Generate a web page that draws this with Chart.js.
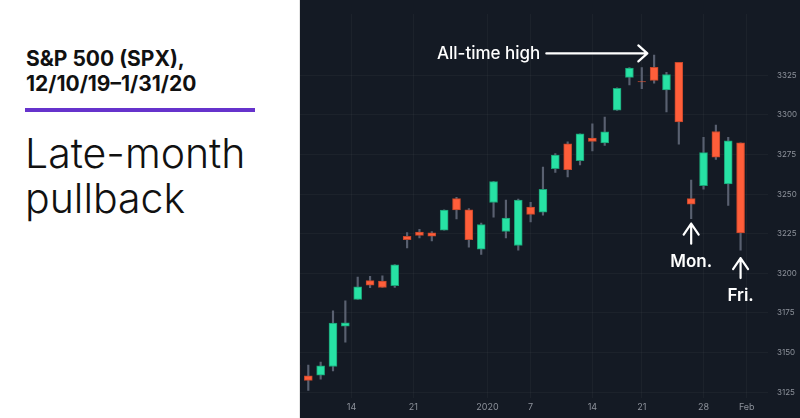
<!DOCTYPE html>
<html>
<head>
<meta charset="utf-8">
<script src="https://cdn.jsdelivr.net/npm/chart.js@4.4.1/dist/chart.umd.min.js"></script>
<style>
  html, body { margin: 0; padding: 0; background: #fff; }
  body { width: 800px; height: 418px; position: relative; overflow: hidden; font-family: Inter, "Noto Sans", sans-serif; }
  .side { position: absolute; left: 0; top: 0; width: 299px; height: 418px; border-right: 1px solid #e4e4e4; }
  .title { position: absolute; left: 26px; top: 46px; font-size: 21px; line-height: 25px; font-weight: 700; color: #111; }
  .rule { position: absolute; left: 25px; top: 108px; width: 230px; height: 4px; background: #6633cc; }
  .sub { position: absolute; left: 25px; top: 131px; font-size: 41px; line-height: 45px; font-weight: 300; color: #111; }
  .plot { position: absolute; left: 300px; top: 0; width: 500px; height: 418px; background: #141a24; }
</style>
</head>
<body>
<div class="side">
  <div class="title">S&amp;P 500 (SPX),<br>12/10/19–1/31/20</div>
  <div class="rule"></div>
  <div class="sub">Late-month<br>pullback</div>
</div>
<div class="plot"><canvas id="spx"></canvas></div>
<script>
// daily candles, Dec 9 2019 (cut off at the edge) to Jan 31 2020
const dates = ['12/9', '12/10', '12/11', '12/12', '12/13', '12/16', '12/17', '12/18', '12/19', '12/20',
  '12/23', '12/24', '12/26', '12/27', '12/30', '12/31', '1/2', '1/3', '1/6', '1/7', '1/8', '1/9', '1/10',
  '1/13', '1/14', '1/15', '1/16', '1/17', '1/21', '1/22', '1/23', '1/24', '1/27', '1/28', '1/29', '1/30', '1/31'];
const open = [3141.9, 3135.4, 3135.8, 3141.2, 3166.7, 3183.6, 3195.4, 3195.2, 3192.3, 3223.3,
  3226.1, 3225.5, 3227.2, 3247.2, 3240.1, 3215.2, 3244.7, 3226.4, 3217.6, 3241.9, 3238.6, 3266.0, 3281.8,
  3271.1, 3285.4, 3282.3, 3303.0, 3323.7, 3321.0, 3330.0, 3315.8, 3333.1, 3247.2, 3255.4, 3289.5, 3256.5, 3282.3];
const high = [3148.9, 3142.1, 3144.0, 3176.3, 3182.7, 3197.7, 3198.2, 3198.5, 3205.5, 3225.7,
  3227.8, 3226.4, 3240.1, 3247.9, 3240.9, 3231.7, 3258.1, 3246.2, 3246.8, 3244.9, 3267.1, 3275.6, 3283.0,
  3288.1, 3294.3, 3298.7, 3317.1, 3329.9, 3329.8, 3337.8, 3326.9, 3333.2, 3258.9, 3285.8, 3293.5, 3285.9, 3282.3];
const low = [3135.5, 3126.1, 3133.2, 3138.5, 3156.5, 3183.6, 3191.0, 3191.1, 3191.1, 3216.0,
  3222.3, 3220.5, 3227.2, 3234.4, 3216.6, 3212.0, 3235.5, 3222.3, 3214.6, 3232.4, 3236.7, 3263.7, 3260.9,
  3268.4, 3277.2, 3280.7, 3302.8, 3318.9, 3316.6, 3320.0, 3301.9, 3281.5, 3234.5, 3253.2, 3271.9, 3242.8, 3214.7];
const close = [3136.0, 3132.5, 3141.6, 3168.6, 3168.8, 3191.5, 3192.5, 3191.1, 3205.4, 3221.2,
  3224.0, 3223.4, 3239.9, 3240.0, 3221.3, 3230.8, 3257.9, 3234.9, 3246.3, 3237.2, 3253.1, 3274.7, 3265.4,
  3288.1, 3283.2, 3289.3, 3316.8, 3329.6, 3320.8, 3321.8, 3325.5, 3295.5, 3243.6, 3276.2, 3273.4, 3283.7, 3225.5];

// x tick labels sit on the candle index (half steps fall on weekends/holidays)
const xTickPos = [4.5, 9.5, 15.5, 19, 24, 28, 33, 36.5];
const xTickLabels = ['14', '21', '2020', '7', '14', '21', '28', 'Feb'];
const yTicks = [3125, 3150, 3175, 3200, 3225, 3250, 3275, 3300, 3325];

const UP = '#27e2a4', UP_EDGE = '#1b9f75';
const DOWN = '#ff5e3a', DOWN_EDGE = '#c4462a';

const isUp = dates.map((d, i) => close[i] >= open[i]);

const notes = {
    id: 'notes',
    afterDatasetsDraw(chart) {
        const { ctx } = chart;
        const x = chart.scales.x, y = chart.scales.y;
        ctx.save();
        ctx.strokeStyle = '#fff';
        ctx.fillStyle = '#fff';
        ctx.lineWidth = 2.2;
        ctx.lineCap = 'round';
        ctx.lineJoin = 'round';
        ctx.font = '500 17px Inter, "Noto Sans", sans-serif';
        ctx.textBaseline = 'middle';

        // All-time high -> arrow pointing right at the peak
        const tx = x.getPixelForValue(28.45), ty = y.getPixelForValue(3338.8);
        ctx.beginPath();
        ctx.moveTo(tx - 101, ty); ctx.lineTo(tx, ty);
        ctx.moveTo(tx - 9, ty - 8); ctx.lineTo(tx, ty); ctx.lineTo(tx - 9, ty + 8);
        ctx.stroke();
        ctx.textAlign = 'right';
        ctx.fillText('All-time high', tx - 107, ty);

        // up arrows under Monday and Friday
        ctx.textAlign = 'center';
        ctx.font = '600 17px Inter, "Noto Sans", sans-serif';
        [[32, 'Mon.', 5], [36, 'Fri.', 8]].forEach(([i, txt, gap]) => {
            const ax = x.getPixelForValue(i);
            const ay = y.getPixelForValue(low[i]) + gap;
            ctx.beginPath();
            ctx.moveTo(ax, ay + 20); ctx.lineTo(ax, ay);
            ctx.moveTo(ax - 7.5, ay + 11); ctx.lineTo(ax, ay); ctx.lineTo(ax + 7.5, ay + 11);
            ctx.stroke();
            ctx.fillText(txt, ax, ay + 38);
        });
        ctx.restore();
    }
};

new Chart(document.getElementById('spx'), {
    type: 'bar',
    data: {
        datasets: [
            {
                label: 'Body',
                data: dates.map((d, i) => ({ x: i, y: [open[i], close[i]] })),
                backgroundColor: isUp.map(u => u ? UP : DOWN),
                borderColor: isUp.map(u => u ? UP_EDGE : DOWN_EDGE),
                borderWidth: 1,
                borderSkipped: false,
                barThickness: 8,
                grouped: false
            },
            {
                label: 'Wick',
                data: dates.map((d, i) => ({ x: i, y: [low[i], high[i]] })),
                backgroundColor: '#596070',
                borderWidth: 0,
                barThickness: 1.5,
                grouped: false
            }
        ]
    },
    options: {
        responsive: true,
        maintainAspectRatio: false,
        animation: false,
        layout: { padding: 0 },
        plugins: { legend: { display: false }, tooltip: { enabled: false } },
        scales: {
            x: {
                type: 'linear',
                min: 0.328,
                max: 38.22,
                offset: false,
                afterBuildTicks: s => { s.ticks = xTickPos.map(v => ({ value: v })); },
                afterFit: s => { s.height = 20; },
                grid: { color: 'rgba(255,255,255,0.035)', drawTicks: false, offset: false },
                border: { display: false },
                ticks: {
                    autoSkip: false, maxRotation: 0, padding: 4,
                    color: '#8d929b', font: { family: 'Inter, "Noto Sans", sans-serif', size: 9 },
                    callback: (v, i) => xTickLabels[i]
                }
            },
            y: {
                position: 'right',
                min: 3121.34,
                max: 3363.8,
                afterBuildTicks: s => { s.ticks = yTicks.map(v => ({ value: v })); },
                afterFit: s => { s.width = 32; },
                grid: { color: 'rgba(255,255,255,0.035)', drawTicks: false },
                border: { display: false },
                ticks: {
                    padding: 9,
                    color: '#8d929b', font: { family: 'Inter, "Noto Sans", sans-serif', size: 8 },
                    callback: v => String(v)
                }
            }
        }
    },
    plugins: [notes]
});
</script>
</body>
</html>
